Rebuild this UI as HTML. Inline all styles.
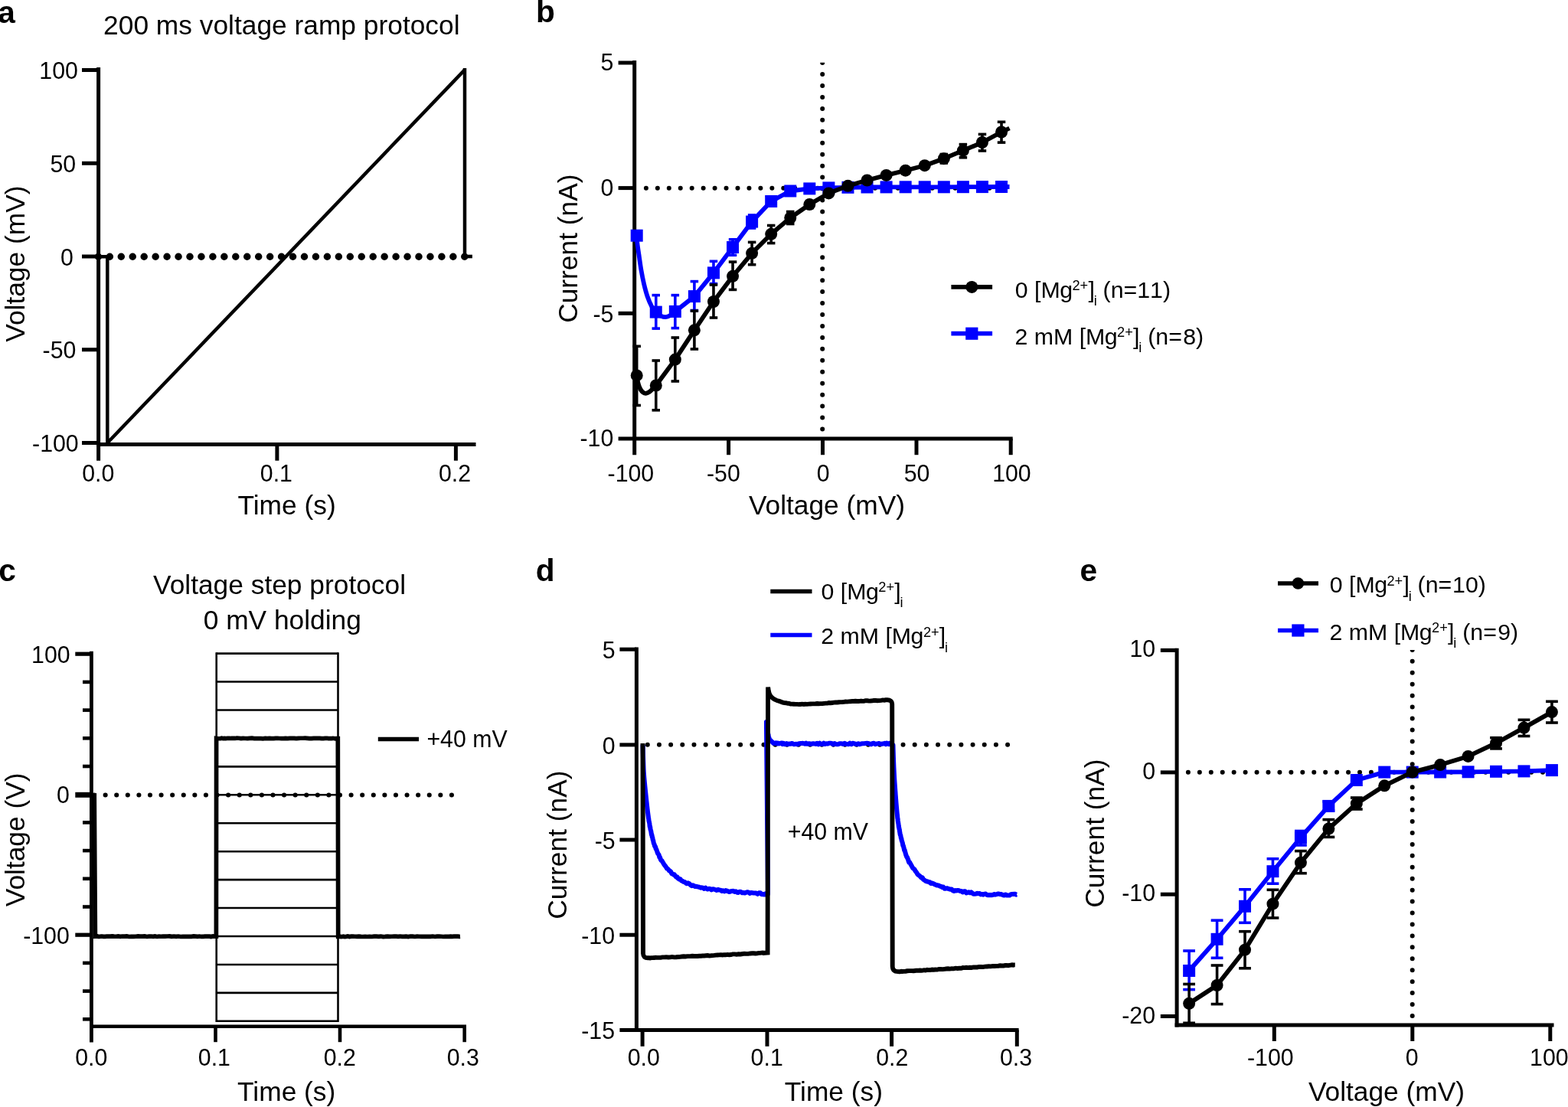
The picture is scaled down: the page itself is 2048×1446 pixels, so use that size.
<!DOCTYPE html>
<html lang="en">
<head>
<meta charset="utf-8">
<title>Voltage ramp and step protocols</title>
<style>
html, body { margin: 0; padding: 0; background: #fff; }
body { width: 2048px; height: 1446px; overflow: hidden; }
svg { display: block; }
svg text { font-family: "Liberation Sans", Arial, Helvetica, sans-serif; fill: #000; }
</style>
</head>
<body>
<svg xmlns="http://www.w3.org/2000/svg" width="2048" height="1446" viewBox="0 0 2048 1446">
<rect width="2048" height="1446" fill="#fff"/>
<text x="-2.74" y="29.9" font-size="40.6" font-weight="bold">a</text>
<text x="135.12" y="45" font-size="35.35">200 ms voltage ramp protocol</text>
<line x1="128.4" y1="335.25" x2="608" y2="335.25" stroke="#000" stroke-width="9.5" stroke-linecap="round" stroke-dasharray="0 14.95"/>
<line x1="606.8" y1="335" x2="616.9" y2="335" stroke="#000" stroke-width="4.6"/>
<path d="M128.6,335.2 L140.3,335.2 L140.3,578.5 L606.6,91.6" fill="none" stroke="#000" stroke-width="4.5" stroke-linejoin="bevel" stroke-linecap="butt"/>
<line x1="607" y1="89" x2="607" y2="335" stroke="#000" stroke-width="4.5"/>
<line x1="128.6" y1="88" x2="128.6" y2="601.7" stroke="#000" stroke-width="5"/>
<line x1="126.1" y1="580.5" x2="621.5" y2="580.5" stroke="#000" stroke-width="5"/>
<line x1="107" y1="91.5" x2="128.6" y2="91.5" stroke="#000" stroke-width="5"/>
<line x1="107" y1="213.25" x2="128.6" y2="213.25" stroke="#000" stroke-width="5"/>
<line x1="107" y1="335" x2="128.6" y2="335" stroke="#000" stroke-width="5"/>
<line x1="107" y1="456.75" x2="128.6" y2="456.75" stroke="#000" stroke-width="5"/>
<line x1="107" y1="578.5" x2="128.6" y2="578.5" stroke="#000" stroke-width="5"/>
<text transform="translate(51.33 103.1) scale(1 1.04)" font-size="30.3">100</text>
<text transform="translate(65.38 225.1) scale(1 1.04)" font-size="30.3">50</text>
<text transform="translate(79.03 347.2) scale(1 1.04)" font-size="30.3">0</text>
<text transform="translate(55.59 468.2) scale(1 1.04)" font-size="30.3">-50</text>
<text transform="translate(42.04 590.15) scale(1 1.04)" font-size="30.3">-100</text>
<line x1="361.9" y1="580.5" x2="361.9" y2="601.7" stroke="#000" stroke-width="5"/>
<line x1="595.4" y1="580.5" x2="595.4" y2="601.7" stroke="#000" stroke-width="5"/>
<text transform="translate(107.14 629.25) scale(1 1.04)" font-size="30.3">0.0</text>
<text transform="translate(339.82 629.25) scale(1 1.04)" font-size="30.3">0.1</text>
<text transform="translate(573.01 629.25) scale(1 1.04)" font-size="30.3">0.2</text>
<text x="310.5" y="672" font-size="35.35">Time (s)</text>
<text transform="translate(31.8 446.72) rotate(-90)" font-size="35.35">Voltage (mV)</text>
<text x="699.92" y="29.4" font-size="40.6" font-weight="bold">b</text>
<line x1="843.9" y1="245.85" x2="1320" y2="245.85" stroke="#000" stroke-width="6" stroke-linecap="round" stroke-dasharray="0 14.95"/>
<clipPath id="cv1"><rect x="1064.2" y="81.8" width="20" height="496.2"/></clipPath>
<line x1="1074.2" y1="82.1" x2="1074.2" y2="568" stroke="#000" stroke-width="6" stroke-linecap="round" stroke-dasharray="0 14.95" clip-path="url(#cv1)"/>
<line x1="828.7" y1="79" x2="828.7" y2="594.2" stroke="#000" stroke-width="5"/>
<line x1="807.6" y1="573.1" x2="1322.7" y2="573.1" stroke="#000" stroke-width="5"/>
<line x1="807.6" y1="82" x2="828.7" y2="82" stroke="#000" stroke-width="5"/>
<line x1="807.6" y1="245.6" x2="828.7" y2="245.6" stroke="#000" stroke-width="5"/>
<line x1="807.6" y1="409.3" x2="828.7" y2="409.3" stroke="#000" stroke-width="5"/>
<line x1="951.6" y1="573.1" x2="951.6" y2="594.2" stroke="#000" stroke-width="5"/>
<line x1="1074.5" y1="573.1" x2="1074.5" y2="594.2" stroke="#000" stroke-width="5"/>
<line x1="1197" y1="573.1" x2="1197" y2="594.2" stroke="#000" stroke-width="5"/>
<line x1="1320.2" y1="573.1" x2="1320.2" y2="594.2" stroke="#000" stroke-width="5"/>
<line x1="856.77" y1="385.6" x2="856.77" y2="429.1" stroke="#0000ff" stroke-width="3.6"/>
<line x1="851.52" y1="385.6" x2="862.02" y2="385.6" stroke="#0000ff" stroke-width="3.6"/>
<line x1="851.52" y1="429.1" x2="862.02" y2="429.1" stroke="#0000ff" stroke-width="3.6"/>
<line x1="881.84" y1="385.6" x2="881.84" y2="428.6" stroke="#0000ff" stroke-width="3.6"/>
<line x1="876.59" y1="385.6" x2="887.09" y2="385.6" stroke="#0000ff" stroke-width="3.6"/>
<line x1="876.59" y1="428.6" x2="887.09" y2="428.6" stroke="#0000ff" stroke-width="3.6"/>
<line x1="906.91" y1="367.6" x2="906.91" y2="405.5" stroke="#0000ff" stroke-width="3.6"/>
<line x1="901.66" y1="367.6" x2="912.16" y2="367.6" stroke="#0000ff" stroke-width="3.6"/>
<line x1="901.66" y1="405.5" x2="912.16" y2="405.5" stroke="#0000ff" stroke-width="3.6"/>
<line x1="931.98" y1="341.3" x2="931.98" y2="370.6" stroke="#0000ff" stroke-width="3.6"/>
<line x1="926.73" y1="341.3" x2="937.23" y2="341.3" stroke="#0000ff" stroke-width="3.6"/>
<line x1="926.73" y1="370.6" x2="937.23" y2="370.6" stroke="#0000ff" stroke-width="3.6"/>
<line x1="957.05" y1="312.8" x2="957.05" y2="333.3" stroke="#0000ff" stroke-width="3.6"/>
<line x1="951.8" y1="312.8" x2="962.3" y2="312.8" stroke="#0000ff" stroke-width="3.6"/>
<line x1="951.8" y1="333.3" x2="962.3" y2="333.3" stroke="#0000ff" stroke-width="3.6"/>
<line x1="982.12" y1="281" x2="982.12" y2="298" stroke="#0000ff" stroke-width="3.6"/>
<line x1="976.87" y1="281" x2="987.37" y2="281" stroke="#0000ff" stroke-width="3.6"/>
<line x1="976.87" y1="298" x2="987.37" y2="298" stroke="#0000ff" stroke-width="3.6"/>
<path d="M831.7,307.7 C831.8,309.25 831.78,312.45 832.3,317 C832.82,321.55 833.93,329 834.8,335 C835.67,341 836.45,347 837.5,353 C838.55,359 839.75,365.3 841.1,371 C842.45,376.7 843.95,382.4 845.6,387.2 C847.25,392 849.14,396.25 851,399.8 C852.86,403.35 854.77,406.37 856.77,408.5 C858.77,410.63 860.89,411.65 863,412.6 C865.11,413.55 867.32,414.3 869.4,414.2 C871.48,414.1 873.43,413.22 875.5,412 C877.57,410.78 880.78,407.75 881.84,406.9 L906.91,387.1 L931.98,356.4 L957.05,323 L982.12,289.6 L1007.19,263 L1032.26,249.5 L1057.33,246.4 L1082.4,245.4 L1107.47,244.8 L1132.54,244.5 L1157.61,244.4 L1182.68,244.3 L1207.75,244.3 L1232.82,244.3 L1257.89,244.2 L1282.96,244.1 L1308.03,244 L1318.5,244" fill="none" stroke="#0000ff" stroke-width="5.8" stroke-linejoin="round" stroke-linecap="butt"/>
<rect x="823.7" y="299.7" width="16" height="16" fill="#0000ff"/>
<rect x="848.77" y="399.6" width="16" height="16" fill="#0000ff"/>
<rect x="873.84" y="398.9" width="16" height="16" fill="#0000ff"/>
<rect x="898.91" y="379.1" width="16" height="16" fill="#0000ff"/>
<rect x="923.98" y="348.4" width="16" height="16" fill="#0000ff"/>
<rect x="949.05" y="315" width="16" height="16" fill="#0000ff"/>
<rect x="974.12" y="281.6" width="16" height="16" fill="#0000ff"/>
<rect x="999.19" y="255" width="16" height="16" fill="#0000ff"/>
<rect x="1024.26" y="241.5" width="16" height="16" fill="#0000ff"/>
<rect x="1049.33" y="238.4" width="16" height="16" fill="#0000ff"/>
<rect x="1074.4" y="237.4" width="16" height="16" fill="#0000ff"/>
<rect x="1099.47" y="236.8" width="16" height="16" fill="#0000ff"/>
<rect x="1124.54" y="236.5" width="16" height="16" fill="#0000ff"/>
<rect x="1149.61" y="236.4" width="16" height="16" fill="#0000ff"/>
<rect x="1174.68" y="236.3" width="16" height="16" fill="#0000ff"/>
<rect x="1199.75" y="236.3" width="16" height="16" fill="#0000ff"/>
<rect x="1224.82" y="236.3" width="16" height="16" fill="#0000ff"/>
<rect x="1249.89" y="236.2" width="16" height="16" fill="#0000ff"/>
<rect x="1274.96" y="236.1" width="16" height="16" fill="#0000ff"/>
<rect x="1300.03" y="236" width="16" height="16" fill="#0000ff"/>
<line x1="831.7" y1="452.3" x2="831.7" y2="529.5" stroke="#000" stroke-width="3.6"/>
<line x1="826.45" y1="452.3" x2="836.95" y2="452.3" stroke="#000" stroke-width="3.6"/>
<line x1="826.45" y1="529.5" x2="836.95" y2="529.5" stroke="#000" stroke-width="3.6"/>
<line x1="856.77" y1="471" x2="856.77" y2="535.8" stroke="#000" stroke-width="3.6"/>
<line x1="851.52" y1="471" x2="862.02" y2="471" stroke="#000" stroke-width="3.6"/>
<line x1="851.52" y1="535.8" x2="862.02" y2="535.8" stroke="#000" stroke-width="3.6"/>
<line x1="881.84" y1="441" x2="881.84" y2="498" stroke="#000" stroke-width="3.6"/>
<line x1="876.59" y1="441" x2="887.09" y2="441" stroke="#000" stroke-width="3.6"/>
<line x1="876.59" y1="498" x2="887.09" y2="498" stroke="#000" stroke-width="3.6"/>
<line x1="906.91" y1="406.1" x2="906.91" y2="456" stroke="#000" stroke-width="3.6"/>
<line x1="901.66" y1="406.1" x2="912.16" y2="406.1" stroke="#000" stroke-width="3.6"/>
<line x1="901.66" y1="456" x2="912.16" y2="456" stroke="#000" stroke-width="3.6"/>
<line x1="931.98" y1="372" x2="931.98" y2="415" stroke="#000" stroke-width="3.6"/>
<line x1="926.73" y1="372" x2="937.23" y2="372" stroke="#000" stroke-width="3.6"/>
<line x1="926.73" y1="415" x2="937.23" y2="415" stroke="#000" stroke-width="3.6"/>
<line x1="957.05" y1="342.1" x2="957.05" y2="378.4" stroke="#000" stroke-width="3.6"/>
<line x1="951.8" y1="342.1" x2="962.3" y2="342.1" stroke="#000" stroke-width="3.6"/>
<line x1="951.8" y1="378.4" x2="962.3" y2="378.4" stroke="#000" stroke-width="3.6"/>
<line x1="982.12" y1="316.4" x2="982.12" y2="345.7" stroke="#000" stroke-width="3.6"/>
<line x1="976.87" y1="316.4" x2="987.37" y2="316.4" stroke="#000" stroke-width="3.6"/>
<line x1="976.87" y1="345.7" x2="987.37" y2="345.7" stroke="#000" stroke-width="3.6"/>
<line x1="1007.19" y1="294.5" x2="1007.19" y2="317.6" stroke="#000" stroke-width="3.6"/>
<line x1="1001.94" y1="294.5" x2="1012.44" y2="294.5" stroke="#000" stroke-width="3.6"/>
<line x1="1001.94" y1="317.6" x2="1012.44" y2="317.6" stroke="#000" stroke-width="3.6"/>
<line x1="1032.26" y1="276.5" x2="1032.26" y2="292.5" stroke="#000" stroke-width="3.6"/>
<line x1="1027.01" y1="276.5" x2="1037.51" y2="276.5" stroke="#000" stroke-width="3.6"/>
<line x1="1027.01" y1="292.5" x2="1037.51" y2="292.5" stroke="#000" stroke-width="3.6"/>
<line x1="1057.33" y1="262.5" x2="1057.33" y2="271.7" stroke="#000" stroke-width="3.6"/>
<line x1="1052.08" y1="262.5" x2="1062.58" y2="262.5" stroke="#000" stroke-width="3.6"/>
<line x1="1052.08" y1="271.7" x2="1062.58" y2="271.7" stroke="#000" stroke-width="3.6"/>
<line x1="1232.82" y1="201.5" x2="1232.82" y2="213" stroke="#000" stroke-width="3.6"/>
<line x1="1227.57" y1="201.5" x2="1238.07" y2="201.5" stroke="#000" stroke-width="3.6"/>
<line x1="1227.57" y1="213" x2="1238.07" y2="213" stroke="#000" stroke-width="3.6"/>
<line x1="1257.89" y1="188.6" x2="1257.89" y2="205.8" stroke="#000" stroke-width="3.6"/>
<line x1="1252.64" y1="188.6" x2="1263.14" y2="188.6" stroke="#000" stroke-width="3.6"/>
<line x1="1252.64" y1="205.8" x2="1263.14" y2="205.8" stroke="#000" stroke-width="3.6"/>
<line x1="1282.96" y1="175.4" x2="1282.96" y2="197" stroke="#000" stroke-width="3.6"/>
<line x1="1277.71" y1="175.4" x2="1288.21" y2="175.4" stroke="#000" stroke-width="3.6"/>
<line x1="1277.71" y1="197" x2="1288.21" y2="197" stroke="#000" stroke-width="3.6"/>
<line x1="1308.03" y1="159.3" x2="1308.03" y2="186.1" stroke="#000" stroke-width="3.6"/>
<line x1="1302.78" y1="159.3" x2="1313.28" y2="159.3" stroke="#000" stroke-width="3.6"/>
<line x1="1302.78" y1="186.1" x2="1313.28" y2="186.1" stroke="#000" stroke-width="3.6"/>
<path d="M831.7,490.4 C832.02,492.17 832.8,497.98 833.6,501 C834.4,504.02 835.43,506.57 836.5,508.5 C837.57,510.43 838.83,511.72 840,512.6 C841.17,513.48 842.17,513.9 843.5,513.8 C844.83,513.7 846.5,512.97 848,512 C849.5,511.03 851.04,509.42 852.5,508 C853.96,506.58 856.06,504.25 856.77,503.5 L881.84,469.6 L906.91,431.3 L931.98,394 L957.05,360.8 L982.12,330.8 L1007.19,305.8 L1032.26,284.5 L1057.33,267.1 L1082.4,252.4 L1107.47,242.8 L1132.54,235.5 L1157.61,228.9 L1182.68,222.7 L1207.75,216.2 L1232.82,207.2 L1257.89,196.7 L1282.96,186 L1308.03,172.5 L1318.5,167.5" fill="none" stroke="#000" stroke-width="5.8" stroke-linejoin="round" stroke-linecap="butt"/>
<circle cx="831.7" cy="490.4" r="8" fill="#000"/>
<circle cx="856.77" cy="503.5" r="8" fill="#000"/>
<circle cx="881.84" cy="469.6" r="8" fill="#000"/>
<circle cx="906.91" cy="431.3" r="8" fill="#000"/>
<circle cx="931.98" cy="394" r="8" fill="#000"/>
<circle cx="957.05" cy="360.8" r="8" fill="#000"/>
<circle cx="982.12" cy="330.8" r="8" fill="#000"/>
<circle cx="1007.19" cy="305.8" r="8" fill="#000"/>
<circle cx="1032.26" cy="284.5" r="8" fill="#000"/>
<circle cx="1057.33" cy="267.1" r="8" fill="#000"/>
<circle cx="1082.4" cy="252.4" r="8" fill="#000"/>
<circle cx="1107.47" cy="242.8" r="8" fill="#000"/>
<circle cx="1132.54" cy="235.5" r="8" fill="#000"/>
<circle cx="1157.61" cy="228.9" r="8" fill="#000"/>
<circle cx="1182.68" cy="222.7" r="8" fill="#000"/>
<circle cx="1207.75" cy="216.2" r="8" fill="#000"/>
<circle cx="1232.82" cy="207.2" r="8" fill="#000"/>
<circle cx="1257.89" cy="196.7" r="8" fill="#000"/>
<circle cx="1282.96" cy="186" r="8" fill="#000"/>
<circle cx="1308.03" cy="172.5" r="8" fill="#000"/>
<text transform="translate(784.52 92.45) scale(1 1.04)" font-size="30.3">5</text>
<text transform="translate(784.43 256.45) scale(1 1.04)" font-size="30.3">0</text>
<text transform="translate(774.43 420.55) scale(1 1.04)" font-size="30.3">-5</text>
<text transform="translate(757.49 583.15) scale(1 1.04)" font-size="30.3">-10</text>
<text transform="translate(793.54 629.05) scale(1 1.04)" font-size="30.3">-100</text>
<text transform="translate(922.99 629.05) scale(1 1.04)" font-size="30.3">-50</text>
<text transform="translate(1066.77 629.05) scale(1 1.04)" font-size="30.3">0</text>
<text transform="translate(1180.73 629.05) scale(1 1.04)" font-size="30.3">50</text>
<text transform="translate(1296.13 629.05) scale(1 1.04)" font-size="30.3">100</text>
<text x="977.88" y="672" font-size="35.35">Voltage (mV)</text>
<text transform="translate(753.9 421.84) rotate(-90)" font-size="35.35">Current (nA)</text>
<line x1="1242.4" y1="374.9" x2="1296.1" y2="374.9" stroke="#000" stroke-width="5.8"/>
<circle cx="1269.3" cy="374.9" r="8" fill="#000"/>
<text x="1325.8" y="388.6" font-size="30.3">0 [M<tspan dx="-0.6">g</tspan><tspan font-size="18.2" dx="-0.5" dy="-9.7">2+</tspan><tspan dx="0.2" dy="9.7">]</tspan><tspan font-size="18.2" dx="-1.2" dy="10.4">i</tspan><tspan dx="-0.5" dy="-10.4" style="font-kerning:none"> (n=<tspan dx="0">11)</tspan></tspan></text>
<line x1="1242.4" y1="435.7" x2="1296.1" y2="435.7" stroke="#0000ff" stroke-width="5.8"/>
<rect x="1261.2" y="427.6" width="16.2" height="16.2" fill="#0000ff"/>
<text x="1325.5" y="449.5" font-size="30.3">2 mM [M<tspan dx="-0.6">g</tspan><tspan font-size="18.2" dx="-0.5" dy="-9.7">2+</tspan><tspan dx="0.2" dy="9.7">]</tspan><tspan font-size="18.2" dx="-1.2" dy="10.4">i</tspan><tspan dx="-0.5" dy="-10.4" style="font-kerning:none"> (n=<tspan dx="1.3">8)</tspan></tspan></text>
<text x="-1.89" y="759.4" font-size="40.6" font-weight="bold">c</text>
<text x="200.05" y="775.5" font-size="35.35">Voltage step protocol</text>
<text x="265.68" y="822" font-size="35.35">0 mV holding</text>
<line x1="282.7" y1="853.6" x2="441.5" y2="853.6" stroke="#000" stroke-width="2.6"/>
<line x1="282.7" y1="890.54" x2="441.5" y2="890.54" stroke="#000" stroke-width="2.6"/>
<line x1="282.7" y1="927.48" x2="441.5" y2="927.48" stroke="#000" stroke-width="2.6"/>
<line x1="282.7" y1="964.42" x2="441.5" y2="964.42" stroke="#000" stroke-width="2.6"/>
<line x1="282.7" y1="1001.36" x2="441.5" y2="1001.36" stroke="#000" stroke-width="2.6"/>
<line x1="282.7" y1="1038.3" x2="441.5" y2="1038.3" stroke="#000" stroke-width="2.6"/>
<line x1="282.7" y1="1075.24" x2="441.5" y2="1075.24" stroke="#000" stroke-width="2.6"/>
<line x1="282.7" y1="1112.18" x2="441.5" y2="1112.18" stroke="#000" stroke-width="2.6"/>
<line x1="282.7" y1="1149.12" x2="441.5" y2="1149.12" stroke="#000" stroke-width="2.6"/>
<line x1="282.7" y1="1186.06" x2="441.5" y2="1186.06" stroke="#000" stroke-width="2.6"/>
<line x1="282.7" y1="1223" x2="441.5" y2="1223" stroke="#000" stroke-width="2.6"/>
<line x1="282.7" y1="1259.94" x2="441.5" y2="1259.94" stroke="#000" stroke-width="2.6"/>
<line x1="282.7" y1="1296.88" x2="441.5" y2="1296.88" stroke="#000" stroke-width="2.6"/>
<line x1="282.7" y1="1333.82" x2="441.5" y2="1333.82" stroke="#000" stroke-width="2.6"/>
<line x1="282.7" y1="852.3" x2="282.7" y2="1335.12" stroke="#000" stroke-width="2.6"/>
<line x1="441.5" y1="852.3" x2="441.5" y2="1335.12" stroke="#000" stroke-width="2.6"/>
<line x1="123.05" y1="1038.5" x2="592" y2="1038.5" stroke="#000" stroke-width="6.1" stroke-linecap="round" stroke-dasharray="0 14.59"/>
<path d="M123.2,1035.9 L124.4,1223.2 L127,1223 L128.34,1223.31 L129.84,1223.28 L131.48,1223.19 L133.27,1223.03 L135.19,1223.38 L137.23,1223.38 L139.4,1223.21 L141.67,1223.2 L144.04,1223.04 L146.5,1222.9 L149.04,1223.12 L151.67,1223.25 L154.36,1222.94 L157.11,1223.38 L159.91,1223.04 L162.75,1223.04 L165.63,1222.93 L168.54,1223.5 L171.47,1223.34 L174.4,1223.43 L177.34,1223.27 L180.28,1222.92 L183.2,1223.1 L186.1,1223.2 L188.97,1222.97 L191.81,1223.47 L194.59,1223.12 L197.33,1222.99 L200,1223.39 L202.44,1222.97 L204.95,1223.46 L207.55,1223.17 L210.21,1223.23 L212.93,1223.11 L215.71,1223.19 L218.53,1223.01 L221.38,1222.92 L224.27,1223.42 L227.17,1223.04 L230.08,1223.37 L233,1223.03 L235.92,1223.48 L238.82,1223.44 L241.71,1223.35 L244.56,1223.36 L247.38,1223.25 L250.16,1223.34 L252.89,1222.97 L255.55,1223.19 L258.15,1223.4 L260.67,1223.02 L263.11,1223.45 L265.46,1223.43 L267.71,1223.15 L269.85,1223.12 L271.88,1223.17 L273.78,1223.13 L275.55,1223.5 L277.18,1223.13 L278.67,1222.92 L280,1223.2 L282.4,1223.2 L282.6,964.5 L285,964.75 L286.33,964.77 L287.81,964.74 L289.44,964.25 L291.21,964.56 L293.11,964.45 L295.14,964.52 L297.27,964.28 L299.52,964.32 L301.86,964.47 L304.3,964.33 L306.81,964.47 L309.41,964.21 L312.07,964.25 L314.79,964.63 L317.56,964.45 L320.38,964.51 L323.23,964.64 L326.11,964.42 L329.01,964.23 L331.93,964.67 L334.84,964.55 L337.76,964.59 L340.66,964.57 L343.54,964.78 L346.4,964.42 L349.22,964.66 L352,964.42 L354.73,964.54 L357.4,964.6 L360,964.39 L362.45,964.25 L364.97,964.48 L367.57,964.63 L370.22,964.55 L372.93,964.47 L375.69,964.59 L378.49,964.31 L381.32,964.31 L384.17,964.39 L387.04,964.69 L389.92,964.32 L392.8,964.27 L395.68,964.26 L398.54,964.22 L401.38,964.37 L404.19,964.54 L406.96,964.69 L409.69,964.4 L412.37,964.42 L414.99,964.37 L417.54,964.38 L420.01,964.67 L422.41,964.53 L424.71,964.36 L426.92,964.26 L429.02,964.67 L431.01,964.62 L432.88,964.7 L434.62,964.34 L436.22,964.53 L437.69,964.75 L439,964.5 L441.3,964.5 L441.7,1223.3 L444,1223.23 L445.35,1223.56 L446.85,1223.51 L448.5,1223.13 L450.29,1223.52 L452.21,1223.38 L454.26,1223.03 L456.42,1223.57 L458.69,1223.15 L461.06,1223.18 L463.52,1223.25 L466.06,1223.35 L468.69,1223.07 L471.38,1223.41 L474.13,1223.5 L476.94,1223.31 L479.79,1223.48 L482.68,1223.37 L485.59,1223.49 L488.53,1223.11 L491.48,1223.22 L494.44,1223.28 L497.39,1223.06 L500.34,1223.58 L503.26,1223.38 L506.16,1223.06 L509.03,1223.35 L511.86,1223.25 L514.63,1223.11 L517.35,1223.1 L520,1223.28 L522.5,1223.04 L525.07,1223.34 L527.72,1223.31 L530.44,1223.08 L533.21,1223.53 L536.03,1223.02 L538.9,1223.1 L541.8,1223.49 L544.72,1223.13 L547.66,1223.25 L550.61,1223.34 L553.57,1223.26 L556.52,1223.3 L559.45,1223.3 L562.37,1223.29 L565.25,1223.03 L568.1,1223.49 L570.9,1223.17 L573.65,1223.03 L576.34,1223.24 L578.96,1223.49 L581.5,1223.38 L583.96,1223.27 L586.33,1223.29 L588.6,1223.13 L590.75,1223.37 L592.8,1223.21 L594.72,1223.04 L596.5,1223.08 L598.15,1223.06 L599.65,1223.41 L601,1223.3" fill="none" stroke="#000" stroke-width="5.7" stroke-linejoin="miter" stroke-linecap="butt"/>
<line x1="119.4" y1="850.8" x2="119.4" y2="1361.5" stroke="#000" stroke-width="4.8"/>
<line x1="117" y1="1340.7" x2="609" y2="1340.7" stroke="#000" stroke-width="4.6"/>
<line x1="98.3" y1="854.2" x2="119.4" y2="854.2" stroke="#000" stroke-width="5.2"/>
<line x1="108" y1="890.9" x2="119.4" y2="890.9" stroke="#000" stroke-width="4.6"/>
<line x1="108" y1="927.6" x2="119.4" y2="927.6" stroke="#000" stroke-width="4.6"/>
<line x1="108" y1="964.3" x2="119.4" y2="964.3" stroke="#000" stroke-width="4.6"/>
<line x1="108" y1="1001" x2="119.4" y2="1001" stroke="#000" stroke-width="4.6"/>
<line x1="98.3" y1="1038.3" x2="119.4" y2="1038.3" stroke="#000" stroke-width="7"/>
<line x1="108" y1="1074.4" x2="119.4" y2="1074.4" stroke="#000" stroke-width="4.6"/>
<line x1="108" y1="1111.1" x2="119.4" y2="1111.1" stroke="#000" stroke-width="4.6"/>
<line x1="108" y1="1147.8" x2="119.4" y2="1147.8" stroke="#000" stroke-width="4.6"/>
<line x1="108" y1="1184.5" x2="119.4" y2="1184.5" stroke="#000" stroke-width="4.6"/>
<line x1="98.3" y1="1221.2" x2="119.4" y2="1221.2" stroke="#000" stroke-width="5.2"/>
<line x1="108" y1="1257.9" x2="119.4" y2="1257.9" stroke="#000" stroke-width="4.6"/>
<line x1="108" y1="1294.6" x2="119.4" y2="1294.6" stroke="#000" stroke-width="4.6"/>
<line x1="108" y1="1331.3" x2="119.4" y2="1331.3" stroke="#000" stroke-width="4.6"/>
<line x1="281.5" y1="1340.7" x2="281.5" y2="1361.2" stroke="#000" stroke-width="4.6"/>
<line x1="444" y1="1340.7" x2="444" y2="1361.2" stroke="#000" stroke-width="4.6"/>
<line x1="606.7" y1="1340.7" x2="606.7" y2="1361.2" stroke="#000" stroke-width="4.6"/>
<text transform="translate(41.03 866.35) scale(1 1.04)" font-size="30.3">100</text>
<text transform="translate(73.93 1049.05) scale(1 1.04)" font-size="30.3">0</text>
<text transform="translate(30.14 1232.75) scale(1 1.04)" font-size="30.3">-100</text>
<text transform="translate(98.24 1392.15) scale(1 1.04)" font-size="30.3">0.0</text>
<text transform="translate(258.82 1392.15) scale(1 1.04)" font-size="30.3">0.1</text>
<text transform="translate(422.71 1392.15) scale(1 1.04)" font-size="30.3">0.2</text>
<text transform="translate(583.71 1392.15) scale(1 1.04)" font-size="30.3">0.3</text>
<text x="310.1" y="1437.6" font-size="35.35">Time (s)</text>
<text transform="translate(31.8 1184.2) rotate(-90)" font-size="35.35">Voltage (V)</text>
<line x1="493.8" y1="965.5" x2="547" y2="965.5" stroke="#000" stroke-width="5.6"/>
<text transform="translate(557.42 975.7) scale(1 1.04)" font-size="30.3">+40 mV</text>
<text x="699.73" y="759.4" font-size="40.6" font-weight="bold">d</text>
<line x1="845.8" y1="972.8" x2="1317" y2="972.8" stroke="#000" stroke-width="6" stroke-linecap="round" stroke-dasharray="0 15.17"/>
<path d="M839.6,973 L839.62,973.9 L839.65,975.02 L839.68,976.32 L839.72,977.78 L839.76,979.37 L839.8,981.07 L839.84,982.84 L839.89,984.65 L839.94,986.49 L839.99,988.32 L840.04,990.11 L840.09,991.84 L840.15,993.48 L840.2,995 L840.26,996.63 L840.31,998.14 L840.35,999.57 L840.39,1000.95 L840.44,1002.3 L840.49,1003.66 L840.55,1005.06 L840.62,1006.52 L840.71,1008.07 L840.81,1009.75 L840.94,1011.58 L841.1,1013.6 L841.21,1014.91 L841.33,1016.3 L841.46,1017.76 L841.59,1019.27 L841.74,1020.85 L841.89,1022.47 L842.05,1024.12 L842.21,1025.81 L842.38,1027.53 L842.56,1029.26 L842.73,1031 L842.91,1032.74 L843.09,1034.47 L843.27,1036.19 L843.45,1037.89 L843.62,1039.56 L843.8,1041.19 L843.97,1042.78 L844.14,1044.32 L844.3,1045.8 L844.5,1047.59 L844.69,1049.35 L844.88,1051.08 L845.07,1052.78 L845.26,1054.45 L845.45,1056.1 L845.64,1057.72 L845.83,1059.32 L846.02,1060.9 L846.22,1062.46 L846.42,1064 L846.62,1065.52 L846.83,1067.03 L847.05,1068.96 L847.27,1069.44 L847.5,1072.16 L847.77,1073.32 L848.05,1074.4 L848.33,1075.59 L848.62,1078.79 L848.91,1080.65 L849.21,1080.42 L849.51,1083.39 L849.82,1084.13 L850.14,1085.12 L850.46,1086.89 L850.79,1089.3 L851.12,1090.94 L851.46,1090.7 L851.8,1093.23 L852.25,1093.83 L852.7,1096.87 L853.17,1097.76 L853.64,1100.48 L854.12,1102.27 L854.62,1102.87 L855.12,1105.37 L855.63,1105.48 L856.14,1106.46 L856.67,1108.92 L857.2,1109.16 L857.86,1111.12 L858.53,1113.11 L859.22,1115.01 L859.92,1115.55 L860.63,1116.73 L861.35,1119.75 L862.08,1119.99 L862.84,1122.6 L863.6,1123.79 L864.47,1124.21 L865.35,1125.77 L866.24,1127.26 L867.14,1128.84 L868.08,1130.05 L869.04,1131.27 L870.05,1132.67 L871.1,1134.58 L872.08,1134.85 L873.09,1135.83 L874.13,1137.53 L875.21,1137.68 L876.3,1138.9 L877.41,1141.32 L878.53,1141.45 L879.67,1142.52 L880.8,1142.42 L882.06,1144.28 L883.3,1145.62 L884.55,1145.46 L885.82,1147.59 L887.13,1148.53 L888.5,1148.27 L889.95,1150.28 L891.5,1150.83 L892.83,1151.96 L894.22,1152.01 L895.68,1153.41 L897.19,1154.16 L898.73,1153.41 L900.29,1154.14 L901.86,1155.99 L903.43,1157.16 L904.98,1156.29 L906.5,1157.21 L907.97,1157.94 L909.4,1157.81 L910.8,1158.26 L912.19,1158.5 L913.6,1158.92 L915.04,1159.66 L916.53,1159.35 L918.09,1159.78 L919.74,1160.85 L921.5,1159.65 L922.94,1160.97 L924.44,1161.53 L926,1160.9 L927.61,1160.95 L929.26,1162.33 L930.94,1161.41 L932.65,1161.52 L934.37,1162.22 L936.1,1162.94 L937.82,1161.95 L939.54,1162.58 L941.23,1162.79 L942.9,1163.97 L944.55,1163.35 L946.2,1164.35 L947.86,1163.14 L949.51,1163.63 L951.17,1164.41 L952.82,1165.02 L954.48,1164.3 L956.13,1163.98 L957.79,1163.91 L959.44,1164.86 L961.1,1164.32 L962.75,1165.68 L964.4,1165.88 L966.06,1164.7 L967.74,1165.01 L969.43,1166.2 L971.13,1165.99 L972.83,1166.44 L974.52,1165.63 L976.21,1165.32 L977.88,1165.75 L979.53,1166.87 L981.15,1165.93 L982.74,1166.19 L984.29,1166.43 L985.8,1166.54 L987.59,1166.64 L989.42,1167.78 L991.26,1166.37 L993.09,1166.19 L994.87,1168.18 L996.58,1168.16 L998.19,1168.47 L999.66,1167.46 L1000.98,1168.57 L1002.1,1168.6 L1003,1167.8 L1001,943 L1001.12,943.94 L1001.28,945.21 L1001.47,946.73 L1001.68,948.41 L1001.9,950.16 L1002.13,951.89 L1002.37,953.54 L1002.6,955 L1002.9,956.79 L1003.2,958.54 L1003.52,960.23 L1003.85,961.76 L1004.21,962.84 L1004.6,964.57 L1005.44,966.53 L1006.38,966.97 L1007.5,968.35 L1008.75,969.27 L1010.18,970.84 L1012,971.03 L1013.18,970.27 L1014.37,971.46 L1015.77,970.53 L1017.58,971.4 L1020,970.7 L1021.04,970.54 L1022.02,971.95 L1022.98,970.92 L1023.96,970.95 L1025,972.19 L1026.13,972.03 L1027.4,971.11 L1028.85,972.2 L1030.5,971.53 L1032.41,971.76 L1034.6,971.01 L1037.12,972.2 L1040,971.81 L1041.08,972.25 L1042.21,972.13 L1043.38,971.18 L1044.61,971.29 L1045.88,970.98 L1047.19,970.94 L1048.54,970.82 L1049.93,971.2 L1051.35,971.68 L1052.81,970.72 L1054.31,971.8 L1055.83,971.26 L1057.39,971.21 L1058.97,972.02 L1060.58,971.48 L1062.2,971.22 L1063.86,971.48 L1065.53,971.84 L1067.21,970.8 L1068.92,972.27 L1070.63,970.75 L1072.36,971.91 L1074.1,972.06 L1075.84,970.74 L1077.59,971.97 L1079.35,971.29 L1081.1,971.63 L1082.86,970.72 L1084.62,970.78 L1086.37,970.99 L1088.11,972.23 L1089.85,971.02 L1091.58,971.91 L1093.29,972.19 L1094.99,972.21 L1096.68,971.25 L1098.35,971.27 L1100,971.54 L1101.58,971.94 L1103.2,970.87 L1104.87,971.9 L1106.56,971.98 L1108.3,972.08 L1110.06,970.76 L1111.85,972.21 L1113.66,970.85 L1115.49,971.25 L1117.34,971.68 L1119.2,972.17 L1121.08,971.24 L1122.96,972.18 L1124.84,971.57 L1126.73,971.2 L1128.61,971.21 L1130.49,970.98 L1132.35,970.83 L1134.21,970.94 L1136.05,971.8 L1137.87,972.29 L1139.67,970.96 L1141.44,970.78 L1143.19,972.28 L1144.9,971.55 L1146.58,971.35 L1148.22,971.08 L1149.82,971.65 L1151.38,972.02 L1152.88,971.43 L1154.34,971.37 L1155.74,970.79 L1157.08,972.17 L1158.37,970.75 L1159.58,971.49 L1160.74,972.04 L1161.82,970.91 L1162.82,971.87 L1163.75,972.22 L1164.6,971.5 L1166.4,973 L1166.43,973.89 L1166.46,974.94 L1166.5,976.16 L1166.54,977.51 L1166.58,978.98 L1166.63,980.56 L1166.68,982.22 L1166.73,983.96 L1166.78,985.75 L1166.84,987.58 L1166.9,989.43 L1166.96,991.28 L1167.03,993.12 L1167.09,994.92 L1167.16,996.69 L1167.23,998.38 L1167.3,1000 L1167.37,1001.55 L1167.44,1003.05 L1167.51,1004.52 L1167.57,1005.97 L1167.64,1007.4 L1167.71,1008.82 L1167.79,1010.25 L1167.86,1011.68 L1167.94,1013.13 L1168.02,1014.6 L1168.11,1016.12 L1168.21,1017.67 L1168.31,1019.28 L1168.42,1020.95 L1168.54,1022.68 L1168.66,1024.5 L1168.8,1026.4 L1168.9,1027.76 L1169,1029.17 L1169.11,1030.64 L1169.21,1032.15 L1169.33,1033.72 L1169.44,1035.31 L1169.56,1036.95 L1169.68,1038.61 L1169.81,1040.29 L1169.94,1041.99 L1170.07,1043.71 L1170.2,1045.43 L1170.34,1047.16 L1170.47,1048.88 L1170.61,1050.59 L1170.76,1052.3 L1170.9,1053.98 L1171.05,1055.64 L1171.19,1057.28 L1171.34,1058.88 L1171.49,1060.44 L1171.64,1061.96 L1171.79,1063.43 L1171.95,1064.84 L1172.1,1066.2 L1172.33,1068.87 L1172.56,1069.59 L1172.8,1072.15 L1173.03,1073.68 L1173.28,1075.33 L1173.52,1076.71 L1173.77,1079.07 L1174.03,1080.82 L1174.29,1081.39 L1174.55,1083.25 L1174.81,1083.49 L1175.08,1086.2 L1175.36,1087.49 L1175.64,1089.58 L1175.92,1090.61 L1176.21,1090.9 L1176.5,1092.47 L1176.89,1094.8 L1177.29,1095.21 L1177.69,1097.76 L1178.1,1098.79 L1178.52,1100.27 L1178.95,1101.7 L1179.38,1104.62 L1179.82,1104.83 L1180.26,1106.51 L1180.71,1108.23 L1181.17,1110.59 L1181.63,1110.39 L1182.1,1112.5 L1182.65,1114.29 L1183.21,1116.5 L1183.77,1117.87 L1184.33,1119.43 L1184.9,1119.69 L1185.49,1121.36 L1186.09,1122.61 L1186.71,1125 L1187.35,1126.46 L1188.01,1126.13 L1188.7,1127.45 L1189.58,1129.08 L1190.5,1130.56 L1191.46,1132.51 L1192.44,1134.11 L1193.45,1134.82 L1194.47,1135.62 L1195.51,1137.72 L1196.55,1138.85 L1197.6,1140.43 L1198.77,1142.48 L1199.92,1143.17 L1201.09,1143.97 L1202.27,1145.28 L1203.49,1146.46 L1204.76,1146.24 L1206.09,1148.92 L1207.5,1149.66 L1208.8,1150.69 L1210.14,1151.35 L1211.52,1151.32 L1212.94,1152.09 L1214.4,1152.23 L1215.91,1154 L1217.48,1153.56 L1219.11,1154.25 L1220.8,1155.22 L1222.11,1155.63 L1223.44,1156.48 L1224.81,1156.4 L1226.21,1156.78 L1227.64,1157.56 L1229.1,1157.92 L1230.59,1158.9 L1232.11,1158.67 L1233.66,1160.81 L1235.24,1160.71 L1236.86,1160.2 L1238.5,1160.8 L1239.94,1161.33 L1241.43,1161.69 L1242.94,1161.53 L1244.49,1163.29 L1246.07,1163.88 L1247.66,1163.12 L1249.27,1163.45 L1250.9,1162.93 L1252.53,1163.24 L1254.16,1163.99 L1255.78,1164.09 L1257.4,1165.47 L1259.01,1164.38 L1260.6,1164.35 L1262.18,1166.44 L1263.76,1165.82 L1265.34,1165.28 L1266.91,1166.29 L1268.49,1165.46 L1270.07,1166.67 L1271.65,1167.76 L1273.23,1167.72 L1274.81,1167.56 L1276.39,1166.86 L1277.96,1167.23 L1279.54,1166.97 L1281.12,1168.32 L1282.7,1167.97 L1284.28,1168.57 L1285.85,1167.77 L1287.41,1167.64 L1288.98,1168.89 L1290.54,1169.3 L1292.11,1169.09 L1293.67,1169.04 L1295.24,1169.1 L1296.82,1168.97 L1298.4,1167.97 L1299.98,1168.58 L1301.58,1168.27 L1303.18,1167.64 L1304.8,1167.66 L1306.37,1168.17 L1308.03,1168.14 L1309.76,1169 L1311.53,1169.52 L1313.34,1168.49 L1315.15,1169.45 L1316.95,1169.53 L1318.7,1169.44 L1320.4,1168.24 L1322.01,1167.93 L1323.53,1167.92 L1324.91,1167.84 L1326.15,1167.83 L1327.22,1168.66 L1328.1,1168.4" fill="none" stroke="#0000ff" stroke-width="6.1" stroke-linejoin="round" stroke-linecap="butt"/>
<path d="M839.5,971 L840,1245.5 Q840.2,1251.5 846.5,1251.27 L847.71,1251.29 L849.1,1251.46 L850.65,1251.13 L852.36,1251.09 L854.21,1251.07 L856.2,1250.76 L858.3,1250.88 L860.5,1250.87 L862.8,1250.89 L865.18,1250.38 L867.62,1250.42 L870.12,1250.2 L872.67,1250.54 L875.25,1250.37 L877.84,1249.88 L880.44,1250.35 L883.04,1250.24 L885.62,1249.96 L888.16,1249.84 L890.67,1249.47 L893.11,1249.29 L895.49,1249.5 L897.79,1249.13 L900,1249.11 L902.24,1249.05 L904.48,1248.83 L906.71,1248.99 L908.92,1248.88 L911.13,1249.03 L913.33,1248.73 L915.52,1248.71 L917.71,1248.52 L919.89,1248.52 L922.06,1248.3 L924.23,1248.09 L926.39,1248.42 L928.55,1248.31 L930.71,1248.12 L932.86,1247.94 L935.01,1247.6 L937.15,1247.45 L939.3,1247.38 L941.44,1247.15 L943.58,1247.46 L945.72,1247.14 L947.86,1247.31 L950,1246.93 L952.28,1247.17 L954.65,1246.99 L957.08,1246.37 L959.57,1246.38 L962.09,1246.68 L964.65,1246.29 L967.22,1246.48 L969.79,1246.01 L972.35,1245.69 L974.88,1245.9 L977.38,1245.87 L979.82,1245.45 L982.2,1245.23 L984.5,1245.27 L986.71,1245.54 L988.81,1245.32 L990.8,1244.84 L992.65,1244.83 L994.36,1244.66 L995.92,1244.56 L997.3,1244.94 L998.5,1244.7 L1002.6,1244.4 L1003.1,897.6 L1003.4,899.5 L1003.67,901.13 L1004.08,903.42 L1004.6,905.5 L1005.57,907.74 L1006.8,909.6 L1008.29,911.17 L1010,912.5 L1011.88,913.61 L1014,914.6 L1015.48,915.25 L1017.09,915.67 L1019.2,916.38 L1020.77,916.93 L1022.52,917.7 L1024.44,918.09 L1026.57,918.22 L1028.9,918.77 L1030.7,918.91 L1032.6,919.53 L1034.6,919.64 L1036.7,919.77 L1038.9,919.88 L1041.2,919.9 L1043.6,920.07 L1045.56,919.99 L1047.61,919.67 L1049.74,920 L1051.93,919.74 L1054.16,919.85 L1056.41,919.67 L1058.67,919.52 L1060.9,919.4 L1063.1,919.36 L1065.27,919.2 L1067.45,918.98 L1069.63,919.29 L1071.81,919.15 L1073.99,919.14 L1076.17,918.83 L1078.35,918.61 L1080.53,918.59 L1082.7,918.08 L1084.87,918.26 L1087.04,917.97 L1089.21,917.65 L1091.37,917.5 L1093.54,917.53 L1095.7,917.21 L1097.87,917.17 L1100.03,917.11 L1102.2,916.84 L1104.37,916.54 L1106.53,916.62 L1108.7,916.33 L1110.86,916.2 L1113.03,916.05 L1115.19,916.04 L1117.36,915.75 L1119.53,915.99 L1121.7,916.07 L1123.89,915.65 L1126.1,915.77 L1128.33,915.83 L1130.56,915.24 L1132.78,915.24 L1134.98,915.59 L1137.14,915.55 L1139.25,915.36 L1141.3,915 L1143.64,915.04 L1146.07,915.2 L1148.51,915.08 L1150.88,914.89 L1153.09,914.41 L1155.07,914.68 L1156.73,914.3 L1158,914.3 Q1165,913.8 1165.2,920 L1165.7,1262.5 Q1165.9,1269.3 1173,1269.11 L1174.2,1269.22 L1175.56,1269.25 L1177.08,1268.77 L1178.78,1268.97 L1180.66,1268.84 L1182.75,1268.72 L1185.04,1268.27 L1187.56,1268.09 L1190.3,1268.16 L1193.28,1268.22 L1196.51,1267.75 L1200,1267.7 L1201.65,1267.5 L1203.38,1267.72 L1205.19,1267.67 L1207.06,1267.24 L1209,1267.48 L1211,1266.81 L1213.06,1267.14 L1215.18,1267.05 L1217.34,1266.49 L1219.55,1266.69 L1221.8,1266.47 L1224.09,1266.58 L1226.4,1265.99 L1228.75,1266.05 L1231.12,1266.12 L1233.52,1265.83 L1235.93,1265.49 L1238.35,1265.22 L1240.78,1265.59 L1243.21,1265.17 L1245.64,1265.34 L1248.07,1264.68 L1250.49,1264.94 L1252.9,1264.8 L1255.29,1264.73 L1257.66,1264.05 L1260,1264.12 L1262.14,1263.81 L1264.35,1264.1 L1266.64,1263.73 L1268.99,1263.95 L1271.39,1263.46 L1273.84,1263.56 L1276.33,1263.48 L1278.85,1262.95 L1281.39,1263 L1283.94,1263.09 L1286.5,1262.68 L1289.06,1262.44 L1291.61,1262.23 L1294.14,1262.4 L1296.65,1261.9 L1299.12,1262 L1301.56,1261.83 L1303.94,1261.69 L1306.27,1261.3 L1308.53,1261.49 L1310.71,1261.52 L1312.82,1261.04 L1314.84,1260.93 L1316.76,1261.17 L1318.57,1260.86 L1320.28,1260.58 L1321.86,1260.33 L1323.31,1260.7 L1324.63,1260.38 L1325.8,1260.4" fill="none" stroke="#000" stroke-width="5.9" stroke-linejoin="miter" stroke-linecap="butt"/>
<line x1="831.4" y1="845.4" x2="831.4" y2="1347.9" stroke="#000" stroke-width="5"/>
<line x1="809.4" y1="1345.4" x2="1330.6" y2="1345.4" stroke="#000" stroke-width="5"/>
<line x1="809.4" y1="848.2" x2="831.4" y2="848.2" stroke="#000" stroke-width="5"/>
<line x1="809.4" y1="972.9" x2="831.4" y2="972.9" stroke="#000" stroke-width="5"/>
<line x1="809.4" y1="1097" x2="831.4" y2="1097" stroke="#000" stroke-width="5"/>
<line x1="809.4" y1="1221.2" x2="831.4" y2="1221.2" stroke="#000" stroke-width="5"/>
<line x1="839.1" y1="1345.4" x2="839.1" y2="1366.8" stroke="#000" stroke-width="5"/>
<line x1="1002" y1="1345.4" x2="1002" y2="1366.8" stroke="#000" stroke-width="5"/>
<line x1="1164.6" y1="1345.4" x2="1164.6" y2="1366.8" stroke="#000" stroke-width="5"/>
<line x1="1328.3" y1="1345.4" x2="1328.3" y2="1366.8" stroke="#000" stroke-width="5"/>
<text transform="translate(786.72 860.15) scale(1 1.04)" font-size="30.3">5</text>
<text transform="translate(786.63 984.75) scale(1 1.04)" font-size="30.3">0</text>
<text transform="translate(776.63 1109.15) scale(1 1.04)" font-size="30.3">-5</text>
<text transform="translate(759.19 1233.05) scale(1 1.04)" font-size="30.3">-10</text>
<text transform="translate(759.28 1357.35) scale(1 1.04)" font-size="30.3">-15</text>
<text transform="translate(819.74 1392.25) scale(1 1.04)" font-size="30.3">0.0</text>
<text transform="translate(980.62 1392.25) scale(1 1.04)" font-size="30.3">0.1</text>
<text transform="translate(1144.21 1392.25) scale(1 1.04)" font-size="30.3">0.2</text>
<text transform="translate(1305.91 1392.25) scale(1 1.04)" font-size="30.3">0.3</text>
<text x="1024.8" y="1438" font-size="35.35">Time (s)</text>
<text transform="translate(740 1200.84) rotate(-90)" font-size="35.35">Current (nA)</text>
<text transform="translate(1028.72 1097.3) scale(1 1.04)" font-size="30.3">+40 mV</text>
<line x1="1006.3" y1="772.5" x2="1060.5" y2="772.5" stroke="#000" stroke-width="5.6"/>
<text x="1072.6" y="782.5" font-size="30.3">0 [M<tspan dx="-0.6">g</tspan><tspan font-size="18.2" dx="-0.5" dy="-9.7">2+</tspan><tspan dx="0.2" dy="9.7">]</tspan><tspan font-size="18.2" dx="-1.2" dy="10.4">i</tspan></text>
<line x1="1006.3" y1="829.5" x2="1060.5" y2="829.5" stroke="#0000ff" stroke-width="5.6"/>
<text x="1072.3" y="841.3" font-size="30.3">2 mM [M<tspan dx="-0.6">g</tspan><tspan font-size="18.2" dx="-0.5" dy="-9.7">2+</tspan><tspan dx="0.2" dy="9.7">]</tspan><tspan font-size="18.2" dx="-1.2" dy="10.4">i</tspan></text>
<text x="1410.61" y="759.4" font-size="40.6" font-weight="bold">e</text>
<line x1="1551.9" y1="1008.85" x2="2032" y2="1008.85" stroke="#000" stroke-width="6" stroke-linecap="round" stroke-dasharray="0 14.94"/>
<clipPath id="cv2"><rect x="1834.7" y="849" width="20" height="490"/></clipPath>
<line x1="1844.7" y1="848.9" x2="1844.7" y2="1329" stroke="#000" stroke-width="6" stroke-linecap="round" stroke-dasharray="0 14.94" clip-path="url(#cv2)"/>
<line x1="1537.1" y1="846.7" x2="1537.1" y2="1341.4" stroke="#000" stroke-width="5"/>
<line x1="1534.6" y1="1338.9" x2="2029.5" y2="1338.9" stroke="#000" stroke-width="5"/>
<line x1="1515.8" y1="849.4" x2="1537.1" y2="849.4" stroke="#000" stroke-width="5"/>
<line x1="1515.8" y1="1008.9" x2="1537.1" y2="1008.9" stroke="#000" stroke-width="5"/>
<line x1="1515.8" y1="1168.2" x2="1537.1" y2="1168.2" stroke="#000" stroke-width="5"/>
<line x1="1515.8" y1="1327.5" x2="1537.1" y2="1327.5" stroke="#000" stroke-width="5"/>
<line x1="1664.3" y1="1338.9" x2="1664.3" y2="1360" stroke="#000" stroke-width="5"/>
<line x1="1844.8" y1="1338.9" x2="1844.8" y2="1360" stroke="#000" stroke-width="5"/>
<line x1="2024.8" y1="1338.9" x2="2024.8" y2="1360" stroke="#000" stroke-width="5"/>
<line x1="1553.13" y1="1242" x2="1553.13" y2="1292.6" stroke="#0000ff" stroke-width="3.6"/>
<line x1="1545.23" y1="1242" x2="1561.03" y2="1242" stroke="#0000ff" stroke-width="3.6"/>
<line x1="1545.23" y1="1292.6" x2="1561.03" y2="1292.6" stroke="#0000ff" stroke-width="3.6"/>
<line x1="1589.58" y1="1202.2" x2="1589.58" y2="1251.3" stroke="#0000ff" stroke-width="3.6"/>
<line x1="1581.68" y1="1202.2" x2="1597.48" y2="1202.2" stroke="#0000ff" stroke-width="3.6"/>
<line x1="1581.68" y1="1251.3" x2="1597.48" y2="1251.3" stroke="#0000ff" stroke-width="3.6"/>
<line x1="1626.02" y1="1161.8" x2="1626.02" y2="1205.3" stroke="#0000ff" stroke-width="3.6"/>
<line x1="1618.12" y1="1161.8" x2="1633.92" y2="1161.8" stroke="#0000ff" stroke-width="3.6"/>
<line x1="1618.12" y1="1205.3" x2="1633.92" y2="1205.3" stroke="#0000ff" stroke-width="3.6"/>
<line x1="1662.47" y1="1121.8" x2="1662.47" y2="1154.2" stroke="#0000ff" stroke-width="3.6"/>
<line x1="1654.57" y1="1121.8" x2="1670.37" y2="1121.8" stroke="#0000ff" stroke-width="3.6"/>
<line x1="1654.57" y1="1154.2" x2="1670.37" y2="1154.2" stroke="#0000ff" stroke-width="3.6"/>
<line x1="1698.92" y1="1085.5" x2="1698.92" y2="1104" stroke="#0000ff" stroke-width="3.6"/>
<line x1="1691.02" y1="1085.5" x2="1706.82" y2="1085.5" stroke="#0000ff" stroke-width="3.6"/>
<line x1="1691.02" y1="1104" x2="1706.82" y2="1104" stroke="#0000ff" stroke-width="3.6"/>
<line x1="1735.36" y1="1047" x2="1735.36" y2="1059" stroke="#0000ff" stroke-width="3.6"/>
<line x1="1727.46" y1="1047" x2="1743.26" y2="1047" stroke="#0000ff" stroke-width="3.6"/>
<line x1="1727.46" y1="1059" x2="1743.26" y2="1059" stroke="#0000ff" stroke-width="3.6"/>
<path d="M1553.13,1268 L1589.58,1226.8 L1626.02,1183.8 L1662.47,1138.2 L1698.92,1094 L1735.36,1052.9 L1771.81,1019 L1808.25,1008.6 L1844.7,1008.6 L1881.15,1008.5 L1917.59,1008.3 L1954.04,1007.8 L1990.48,1007.4 L2026.93,1006.1" fill="none" stroke="#0000ff" stroke-width="5.8" stroke-linejoin="round" stroke-linecap="butt"/>
<rect x="1545.13" y="1260" width="16" height="16" fill="#0000ff"/>
<rect x="1581.58" y="1218.8" width="16" height="16" fill="#0000ff"/>
<rect x="1618.02" y="1175.8" width="16" height="16" fill="#0000ff"/>
<rect x="1654.47" y="1130.2" width="16" height="16" fill="#0000ff"/>
<rect x="1690.92" y="1086" width="16" height="16" fill="#0000ff"/>
<rect x="1727.36" y="1044.9" width="16" height="16" fill="#0000ff"/>
<rect x="1763.81" y="1011" width="16" height="16" fill="#0000ff"/>
<rect x="1800.25" y="1000.6" width="16" height="16" fill="#0000ff"/>
<rect x="1836.7" y="1000.6" width="16" height="16" fill="#0000ff"/>
<rect x="1873.15" y="1000.5" width="16" height="16" fill="#0000ff"/>
<rect x="1909.59" y="1000.3" width="16" height="16" fill="#0000ff"/>
<rect x="1946.04" y="999.8" width="16" height="16" fill="#0000ff"/>
<rect x="1982.48" y="999.4" width="16" height="16" fill="#0000ff"/>
<rect x="2018.93" y="998.1" width="16" height="16" fill="#0000ff"/>
<line x1="1553.13" y1="1285.5" x2="1553.13" y2="1336.3" stroke="#000" stroke-width="3.6"/>
<line x1="1545.23" y1="1285.5" x2="1561.03" y2="1285.5" stroke="#000" stroke-width="3.6"/>
<line x1="1545.23" y1="1336.3" x2="1561.03" y2="1336.3" stroke="#000" stroke-width="3.6"/>
<line x1="1589.58" y1="1261" x2="1589.58" y2="1311.6" stroke="#000" stroke-width="3.6"/>
<line x1="1581.68" y1="1261" x2="1597.48" y2="1261" stroke="#000" stroke-width="3.6"/>
<line x1="1581.68" y1="1311.6" x2="1597.48" y2="1311.6" stroke="#000" stroke-width="3.6"/>
<line x1="1626.02" y1="1216.7" x2="1626.02" y2="1264.8" stroke="#000" stroke-width="3.6"/>
<line x1="1618.12" y1="1216.7" x2="1633.92" y2="1216.7" stroke="#000" stroke-width="3.6"/>
<line x1="1618.12" y1="1264.8" x2="1633.92" y2="1264.8" stroke="#000" stroke-width="3.6"/>
<line x1="1662.47" y1="1162.3" x2="1662.47" y2="1199" stroke="#000" stroke-width="3.6"/>
<line x1="1654.57" y1="1162.3" x2="1670.37" y2="1162.3" stroke="#000" stroke-width="3.6"/>
<line x1="1654.57" y1="1199" x2="1670.37" y2="1199" stroke="#000" stroke-width="3.6"/>
<line x1="1698.92" y1="1111.6" x2="1698.92" y2="1140.7" stroke="#000" stroke-width="3.6"/>
<line x1="1691.02" y1="1111.6" x2="1706.82" y2="1111.6" stroke="#000" stroke-width="3.6"/>
<line x1="1691.02" y1="1140.7" x2="1706.82" y2="1140.7" stroke="#000" stroke-width="3.6"/>
<line x1="1735.36" y1="1070.6" x2="1735.36" y2="1093.4" stroke="#000" stroke-width="3.6"/>
<line x1="1727.46" y1="1070.6" x2="1743.26" y2="1070.6" stroke="#000" stroke-width="3.6"/>
<line x1="1727.46" y1="1093.4" x2="1743.26" y2="1093.4" stroke="#000" stroke-width="3.6"/>
<line x1="1771.81" y1="1042" x2="1771.81" y2="1057" stroke="#000" stroke-width="3.6"/>
<line x1="1763.91" y1="1042" x2="1779.71" y2="1042" stroke="#000" stroke-width="3.6"/>
<line x1="1763.91" y1="1057" x2="1779.71" y2="1057" stroke="#000" stroke-width="3.6"/>
<line x1="1954.04" y1="963.7" x2="1954.04" y2="977.9" stroke="#000" stroke-width="3.6"/>
<line x1="1946.14" y1="963.7" x2="1961.94" y2="963.7" stroke="#000" stroke-width="3.6"/>
<line x1="1946.14" y1="977.9" x2="1961.94" y2="977.9" stroke="#000" stroke-width="3.6"/>
<line x1="1990.48" y1="940.3" x2="1990.48" y2="961.5" stroke="#000" stroke-width="3.6"/>
<line x1="1982.58" y1="940.3" x2="1998.38" y2="940.3" stroke="#000" stroke-width="3.6"/>
<line x1="1982.58" y1="961.5" x2="1998.38" y2="961.5" stroke="#000" stroke-width="3.6"/>
<line x1="2026.93" y1="916.3" x2="2026.93" y2="944" stroke="#000" stroke-width="3.6"/>
<line x1="2019.03" y1="916.3" x2="2034.83" y2="916.3" stroke="#000" stroke-width="3.6"/>
<line x1="2019.03" y1="944" x2="2034.83" y2="944" stroke="#000" stroke-width="3.6"/>
<path d="M1553.13,1310.8 L1589.58,1287 L1626.02,1240.7 L1662.47,1180.7 L1698.92,1126.8 L1735.36,1082.5 L1771.81,1049.7 L1808.25,1026.3 L1844.7,1008.6 L1881.15,999.1 L1917.59,987.9 L1954.04,970.7 L1990.48,950.6 L2026.93,930.1" fill="none" stroke="#000" stroke-width="5.8" stroke-linejoin="round" stroke-linecap="butt"/>
<circle cx="1553.13" cy="1310.8" r="8" fill="#000"/>
<circle cx="1589.58" cy="1287" r="8" fill="#000"/>
<circle cx="1626.02" cy="1240.7" r="8" fill="#000"/>
<circle cx="1662.47" cy="1180.7" r="8" fill="#000"/>
<circle cx="1698.92" cy="1126.8" r="8" fill="#000"/>
<circle cx="1735.36" cy="1082.5" r="8" fill="#000"/>
<circle cx="1771.81" cy="1049.7" r="8" fill="#000"/>
<circle cx="1808.25" cy="1026.3" r="8" fill="#000"/>
<circle cx="1844.7" cy="1008.6" r="8" fill="#000"/>
<circle cx="1881.15" cy="999.1" r="8" fill="#000"/>
<circle cx="1917.59" cy="987.9" r="8" fill="#000"/>
<circle cx="1954.04" cy="970.7" r="8" fill="#000"/>
<circle cx="1990.48" cy="950.6" r="8" fill="#000"/>
<circle cx="2026.93" cy="930.1" r="8" fill="#000"/>
<text transform="translate(1475.48 858.05) scale(1 1.04)" font-size="30.3">10</text>
<text transform="translate(1492.33 1018.25) scale(1 1.04)" font-size="30.3">0</text>
<text transform="translate(1465.19 1177.45) scale(1 1.04)" font-size="30.3">-10</text>
<text transform="translate(1465.19 1337.05) scale(1 1.04)" font-size="30.3">-20</text>
<text transform="translate(1628.94 1392.35) scale(1 1.04)" font-size="30.3">-100</text>
<text transform="translate(1835.87 1392.35) scale(1 1.04)" font-size="30.3">0</text>
<text transform="translate(1998.03 1392.35) scale(1 1.04)" font-size="30.3">100</text>
<text x="1708.88" y="1437.8" font-size="35.35">Voltage (mV)</text>
<text transform="translate(1442 1185.84) rotate(-90)" font-size="35.35">Current (nA)</text>
<line x1="1669" y1="762" x2="1722" y2="762" stroke="#000" stroke-width="5.6"/>
<circle cx="1695.4" cy="762" r="7.8" fill="#000"/>
<text x="1736.8" y="774.4" font-size="30.3">0 [M<tspan dx="-0.6">g</tspan><tspan font-size="18.2" dx="-0.5" dy="-9.7">2+</tspan><tspan dx="0.2" dy="9.7">]</tspan><tspan font-size="18.2" dx="-1.2" dy="10.4">i</tspan><tspan dx="-0.5" dy="-10.4" style="font-kerning:none"> (n=<tspan dx="0.8">10)</tspan></tspan></text>
<line x1="1669" y1="823.5" x2="1722" y2="823.5" stroke="#0000ff" stroke-width="5.6"/>
<rect x="1687.3" y="815.4" width="16.2" height="16.2" fill="#0000ff"/>
<text x="1736.5" y="835.5" font-size="30.3">2 mM [M<tspan dx="-0.6">g</tspan><tspan font-size="18.2" dx="-0.5" dy="-9.7">2+</tspan><tspan dx="0.2" dy="9.7">]</tspan><tspan font-size="18.2" dx="-1.2" dy="10.4">i</tspan><tspan dx="-0.5" dy="-10.4" style="font-kerning:none"> (n=<tspan dx="1.3">9)</tspan></tspan></text>
</svg>
</body>
</html>
